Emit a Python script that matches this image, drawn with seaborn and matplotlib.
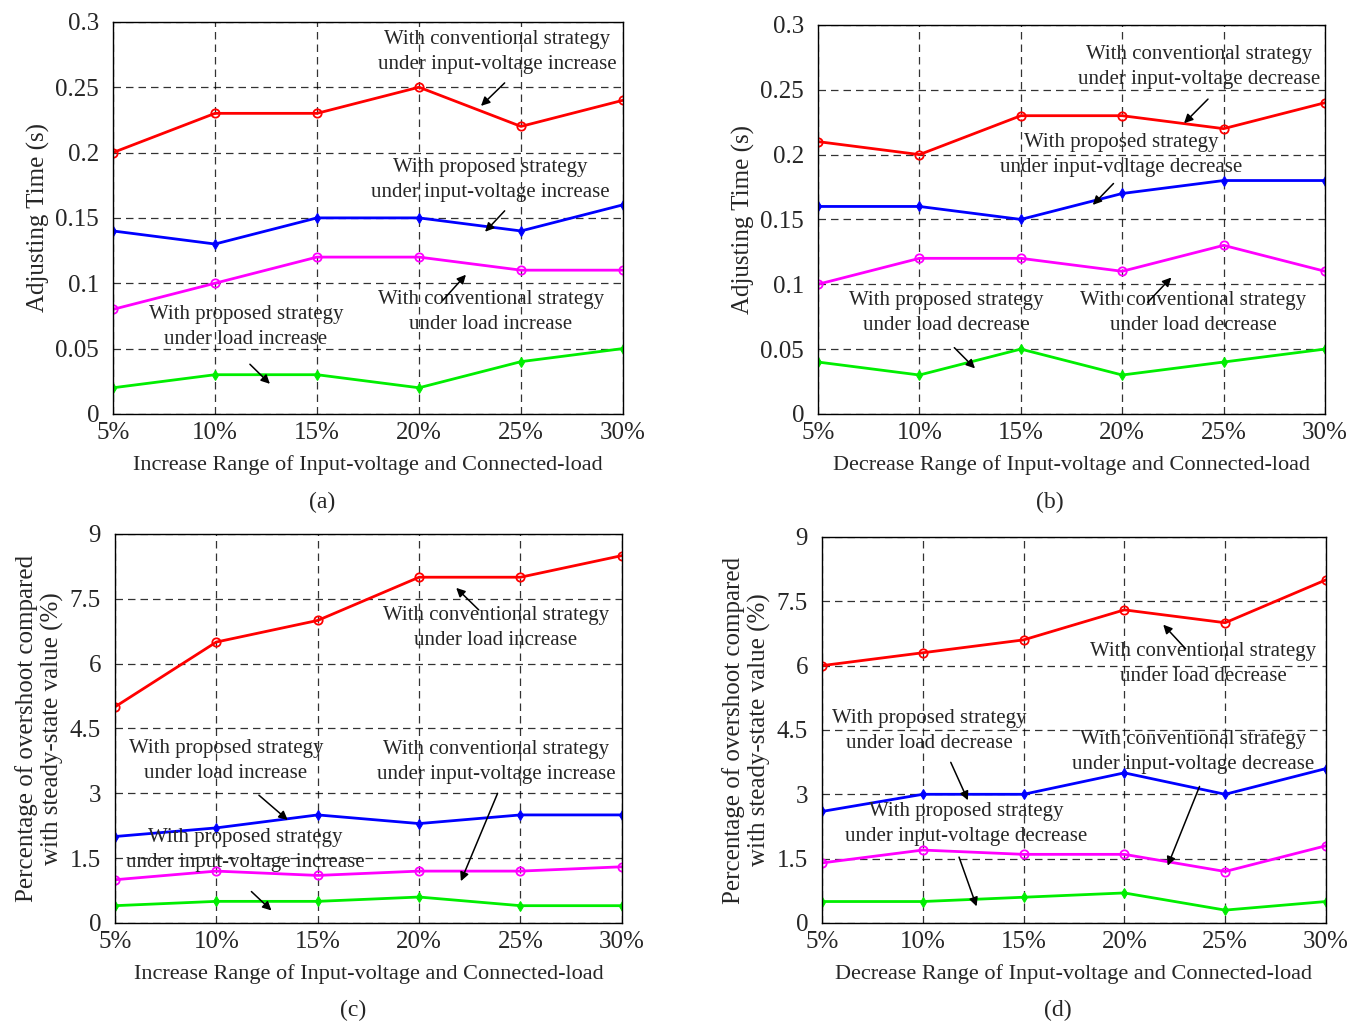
import matplotlib
matplotlib.use("Agg")
import matplotlib.pyplot as plt
import numpy as np
import seaborn as sns

sns.set_theme(style="white")
plt.rcParams["font.family"] = ["Liberation Serif", "DejaVu Serif"]
plt.rcParams["mathtext.fontset"] = "stix"

# ── data ────────────────────────────────────────────────────────────────
PCTS = [5, 10, 15, 20, 25, 30]
PCT_LABELS = ["5%", "10%", "15%", "20%", "25%", "30%"]

# (a) adjusting time, increase
a_conv_volt = [0.20, 0.23, 0.23, 0.25, 0.22, 0.24]
a_prop_volt = [0.14, 0.13, 0.15, 0.15, 0.14, 0.16]
a_conv_load = [0.08, 0.10, 0.12, 0.12, 0.11, 0.11]
a_prop_load = [0.02, 0.03, 0.03, 0.02, 0.04, 0.05]

# (b) adjusting time, decrease
b_conv_volt = [0.21, 0.20, 0.23, 0.23, 0.22, 0.24]
b_prop_volt = [0.16, 0.16, 0.15, 0.17, 0.18, 0.18]
b_conv_load = [0.10, 0.12, 0.12, 0.11, 0.13, 0.11]
b_prop_load = [0.04, 0.03, 0.05, 0.03, 0.04, 0.05]

# (c) overshoot, increase
c_conv_load = [5.0, 6.5, 7.0, 8.0, 8.0, 8.5]
c_prop_load = [2.0, 2.2, 2.5, 2.3, 2.5, 2.5]
c_conv_volt = [1.0, 1.2, 1.1, 1.2, 1.2, 1.3]
c_prop_volt = [0.4, 0.5, 0.5, 0.6, 0.4, 0.4]

# (d) overshoot, decrease
d_conv_load = [6.0, 6.3, 6.6, 7.3, 7.0, 8.0]
d_prop_load = [2.6, 3.0, 3.0, 3.5, 3.0, 3.6]
d_conv_volt = [1.4, 1.7, 1.6, 1.6, 1.2, 1.8]
d_prop_volt = [0.5, 0.5, 0.6, 0.7, 0.3, 0.5]

TIME_TICKS = [0, 0.05, 0.1, 0.15, 0.2, 0.25, 0.3]
TIME_LABELS = ["0", "0.05", "0.1", "0.15", "0.2", "0.25", "0.3"]
OVER_TICKS = [0, 1.5, 3, 4.5, 6, 7.5, 9]
OVER_LABELS = ["0", "1.5", "3", "4.5", "6", "7.5", "9"]

RED, BLUE, MAG, GREEN = "#ff0000", "#0000ff", "#ff00ff", "#00ee00"

fig = plt.figure(figsize=(13.49, 10.22), dpi=100)
ax_a = fig.add_axes([0.0838, 0.595, 0.378, 0.3836])
ax_b = fig.add_axes([0.6064, 0.595, 0.3758, 0.3806])
ax_c = fig.add_axes([0.0852, 0.0969, 0.3758, 0.3806])
ax_d = fig.add_axes([0.6093, 0.0969, 0.3736, 0.3777])


def draw(ax, y, color, circle):
    if circle:
        sns.lineplot(x=PCTS, y=y, ax=ax, color=color, lw=2.0, marker="o",
                     markersize=6, markerfacecolor="none", markeredgecolor=color,
                     markeredgewidth=1.3)
    else:
        sns.lineplot(x=PCTS, y=y, ax=ax, color=color, lw=2.0, marker="d",
                     markersize=5, markerfacecolor=color, markeredgecolor=color)


def style(ax, yticks, ylabels, xlabel, ylabel):
    ax.set_xlim(5, 30)
    ax.set_ylim(yticks[0], yticks[-1])
    ax.set_xticks(PCTS)
    ax.set_xticklabels(PCT_LABELS)
    ax.set_yticks(yticks)
    ax.set_yticklabels(ylabels)
    ax.grid(True, color="black", ls=(0, (6, 4)), lw=0.9, alpha=0.8)
    ax.set_axisbelow(True)
    for s in ax.spines.values():
        s.set_color("black")
        s.set_linewidth(1.0)
    ax.tick_params(axis="both", labelsize=18, direction="in", length=0)
    ax.tick_params(axis="x", pad=6)
    ax.tick_params(axis="y", pad=10)
    ax.set_xlabel(xlabel, fontsize=16, labelpad=8)
    ax.set_ylabel(ylabel, fontsize=18, labelpad=4)


def note(ax, text, xy_text, tail, head):
    ax.text(xy_text[0], xy_text[1], text, ha="center", va="center",
            fontsize=15, linespacing=1.4)
    ax.annotate("", xy=head, xytext=tail,
                arrowprops=dict(arrowstyle="-|>", color="black", lw=1.1,
                                mutation_scale=13, shrinkA=0, shrinkB=0))


# (a)
for y, c, circ in [(a_conv_volt, RED, True), (a_prop_volt, BLUE, False),
                   (a_conv_load, MAG, True), (a_prop_load, GREEN, False)]:
    draw(ax_a, y, c, circ)
style(ax_a, TIME_TICKS, TIME_LABELS,
      "Increase Range of Input-voltage and Connected-load", "Adjusting Time (s)")
note(ax_a, "With conventional strategy\nunder input-voltage increase",
     (23.82, 0.277), (24.2, 0.2533), (23.04, 0.2357))
note(ax_a, "With proposed strategy\nunder input-voltage increase",
     (23.48, 0.179), (24.2, 0.1554), (23.24, 0.1394))
note(ax_a, "With conventional strategy\nunder load increase",
     (23.53, 0.078), (21.16, 0.0868), (22.30, 0.1065))
note(ax_a, "With proposed strategy\nunder load increase",
     (11.52, 0.0666), (11.71, 0.038), (12.69, 0.023))

# (b)
for y, c, circ in [(b_conv_volt, RED, True), (b_prop_volt, BLUE, False),
                   (b_conv_load, MAG, True), (b_prop_load, GREEN, False)]:
    draw(ax_b, y, c, circ)
style(ax_b, TIME_TICKS, TIME_LABELS,
      "Decrease Range of Input-voltage and Connected-load", "Adjusting Time (s)")
note(ax_b, "With conventional strategy\nunder input-voltage decrease",
     (23.79, 0.2676), (24.23, 0.2428), (23.05, 0.2242))
note(ax_b, "With proposed strategy\nunder input-voltage decrease",
     (19.94, 0.1997), (19.57, 0.1777), (18.55, 0.1612))
note(ax_b, "With proposed strategy\nunder load decrease",
     (11.31, 0.0779), (11.72, 0.0511), (12.74, 0.0351))
note(ax_b, "With conventional strategy\nunder load decrease",
     (23.49, 0.0779), (21.26, 0.0861), (22.42, 0.1052))

# (c)
for y, c, circ in [(c_conv_load, RED, True), (c_prop_load, BLUE, False),
                   (c_conv_volt, MAG, True), (c_prop_volt, GREEN, False)]:
    draw(ax_c, y, c, circ)
style(ax_c, OVER_TICKS, OVER_LABELS,
      "Increase Range of Input-voltage and Connected-load",
      "Percentage of overshoot compared\nwith steady-state value (%)")
note(ax_c, "With conventional strategy\nunder load increase",
     (23.79, 6.826), (22.94, 7.244), (21.83, 7.753))
note(ax_c, "With proposed strategy\nunder load increase",
     (10.47, 3.748), (12.10, 2.957), (13.52, 2.383))
note(ax_c, "With conventional strategy\nunder input-voltage increase",
     (23.79, 3.725), (23.87, 2.999), (22.06, 0.967))
note(ax_c, "With proposed strategy\nunder input-voltage increase",
     (11.41, 1.689), (11.73, 0.727), (12.72, 0.289))

# (d)
for y, c, circ in [(d_conv_load, RED, True), (d_prop_load, BLUE, False),
                   (d_conv_volt, MAG, True), (d_prop_volt, GREEN, False)]:
    draw(ax_d, y, c, circ)
style(ax_d, OVER_TICKS, OVER_LABELS,
      "Decrease Range of Input-voltage and Connected-load",
      "Percentage of overshoot compared\nwith steady-state value (%)")
note(ax_d, "With conventional strategy\nunder load decrease",
     (23.90, 6.039), (23.04, 6.393), (21.93, 6.955))
note(ax_d, "With proposed strategy\nunder load decrease",
     (10.31, 4.477), (11.39, 3.745), (12.24, 2.861))
note(ax_d, "With conventional strategy\nunder input-voltage decrease",
     (23.40, 3.987), (23.73, 3.183), (22.15, 1.336))
note(ax_d, "With proposed strategy\nunder input-voltage decrease",
     (12.14, 2.308), (11.80, 1.536), (12.67, 0.387))

# panel captions
for lbl, (x, y) in zip(["(a)", "(b)", "(c)", "(d)"],
                       [(322, 502), (1050, 502), (353, 1010), (1058, 1010)]):
    fig.text(x / 1349, 1 - y / 1022, lbl, ha="center", va="center", fontsize=17)

fig.savefig("out.png", dpi=100)
